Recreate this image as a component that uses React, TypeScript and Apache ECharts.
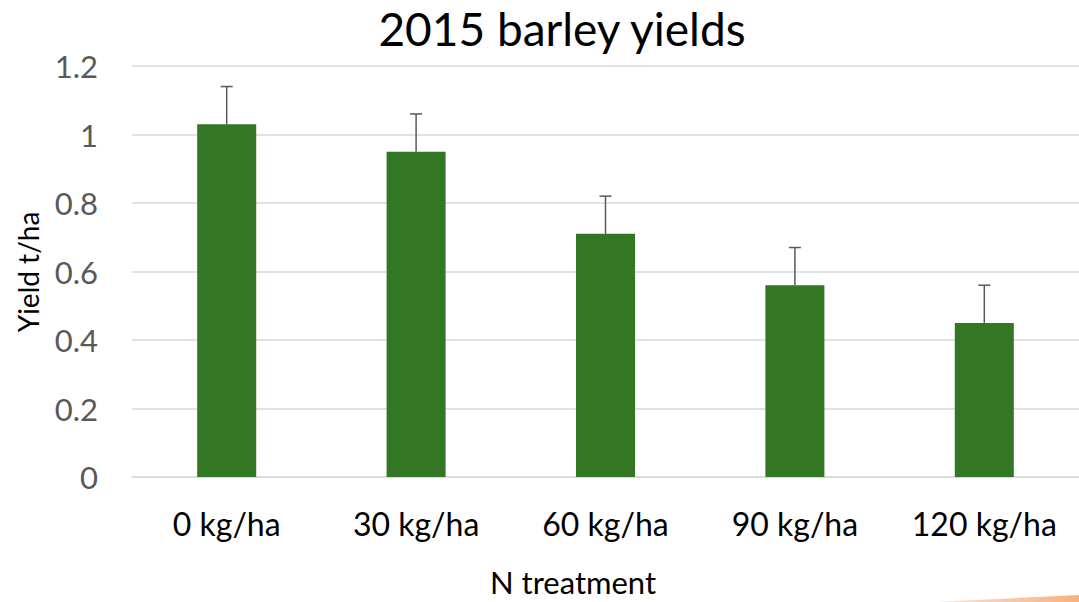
import React, { useEffect, useRef } from "react";
import * as echarts from "echarts";

const categories = ["0 kg/ha", "30 kg/ha", "60 kg/ha", "90 kg/ha", "120 kg/ha"];
const yields = [1.03, 0.95, 0.71, 0.56, 0.45];
const errorTops = [1.14, 1.06, 0.82, 0.67, 0.56];
const titleText = "2015 barley yields";
const xName = "N treatment";
const yName = "Yield t/ha";

const FONT = "Lato, 'Open Sans', sans-serif";

export default function App() {
  const ref = useRef<HTMLDivElement>(null);
  useEffect(() => {
    if (!ref.current) return;
    const chart = echarts.init(ref.current, undefined, { renderer: "svg" });
    const errData = categories.map((_, i) => [i, yields[i], errorTops[i]]);
    chart.setOption({
      animation: false,
      backgroundColor: "#ffffff",
      textStyle: { fontFamily: FONT },
      grid: { left: 132, top: 66, width: 960, height: 411, containLabel: false },
      xAxis: {
        type: "category",
        data: categories,
        axisLine: { lineStyle: { color: "#d9d9d9", width: 1.5 } },
        axisTick: { show: false },
        axisLabel: { color: "#000000", fontSize: 32, margin: 30, fontFamily: FONT },
      },
      yAxis: {
        type: "value",
        min: 0,
        max: 1.2,
        interval: 0.2,
        axisLine: { show: false },
        axisTick: { show: false },
        splitLine: { lineStyle: { color: "#d9d9d9", width: 1.5 } },
        axisLabel: { color: "#595959", fontSize: 31, margin: 34, fontFamily: FONT },
      },
      graphic: [
        {
          type: "text",
          x: 562,
          y: 28,
          style: {
            text: titleText,
            fontSize: 46,
            fill: "#000000",
            fontFamily: FONT,
            align: "center",
            verticalAlign: "middle",
          },
        },
        {
          type: "text",
          x: 573,
          y: 582,
          style: {
            text: xName,
            fontSize: 31,
            fill: "#000000",
            fontFamily: FONT,
            align: "center",
            verticalAlign: "middle",
          },
        },
        {
          type: "text",
          x: 28,
          y: 272,
          rotation: Math.PI / 2,
          style: {
            text: yName,
            fontSize: 28,
            fill: "#000000",
            fontFamily: FONT,
            align: "center",
            verticalAlign: "middle",
          },
        },
        {
          type: "polygon",
          shape: { points: [[935, 602], [1079, 595], [1079, 602]] },
          style: {
            fill: new echarts.graphic.LinearGradient(0, 0, 1, 0, [
              { offset: 0, color: "#fbe2d5" },
              { offset: 1, color: "#f4b183" },
            ]),
          },
        },
      ],
      series: [
        {
          type: "bar",
          data: yields,
          barWidth: 59,
          itemStyle: { color: "#337624" },
        },
        {
          type: "custom",
          data: errData,
          z: 10,
          renderItem: (params: any, api: any) => {
            const x = api.value(0);
            const p0 = api.coord([x, api.value(1)]);
            const p1 = api.coord([x, api.value(2)]);
            const half = 6;
            const style = { stroke: "#595959", lineWidth: 1.5 };
            return {
              type: "group",
              children: [
                { type: "line", shape: { x1: p0[0], y1: p0[1], x2: p1[0], y2: p1[1] }, style },
                { type: "line", shape: { x1: p1[0] - half, y1: p1[1], x2: p1[0] + half, y2: p1[1] }, style },
              ],
            };
          },
        },
      ],
    });
    return () => chart.dispose();
  }, []);
  return (
    <div
      ref={ref}
      style={{ position: "fixed", left: 0, top: 0, width: 1079, height: 602 }}
    />
  );
}
